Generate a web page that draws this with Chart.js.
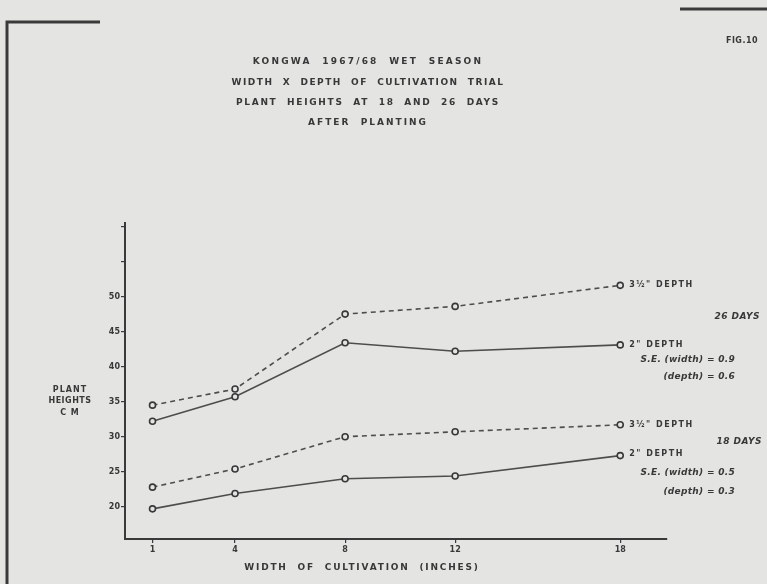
<!DOCTYPE html>
<html>
<head>
<meta charset="utf-8">
<script src="https://cdn.jsdelivr.net/npm/chart.js@4.4.0/dist/chart.umd.min.js"></script>
<style>
  html, body { margin: 0; padding: 0; background: #e4e4e2; }
  #wrap { width: 767px; height: 584px; }
</style>
</head>
<body>
<div id="wrap"><canvas id="grafico" width="767" height="584"></canvas></div>
<script>
// valores (altura em cm)
const larguras = [1, 4, 8, 12, 18];
const dias26_prof35 = [34.5, 36.8, 47.5, 48.6, 51.6];
const dias26_prof2 = [32.2, 35.7, 43.4, 42.2, 43.1];
const dias18_prof35 = [22.8, 25.4, 30.0, 30.7, 31.7];
const dias18_prof2 = [19.7, 21.9, 24.0, 24.4, 27.3];

const ticksY = [20, 25, 30, 35, 40, 45, 50, 55, 60];
const rotulosY = ['20', '25', '30', '35', '40', '45', '50', '', ''];

const titulo = [
    'KONGWA  1967/68  WET  SEASON',
    'WIDTH  X  DEPTH  OF  CULTIVATION  TRIAL',
    'PLANT  HEIGHTS  AT  18  AND  26  DAYS',
    'AFTER  PLANTING'
];

const FUNDO = '#e4e4e2';
const TINTA = '#383838';
const LINHA = '#4d4d4d';

function pontos(valores) {
    return larguras.map((x, i) => ({ x: x, y: valores[i] }));
}

function serie(valores, tracejado) {
    return {
        data: pontos(valores),
        showLine: true,
        borderColor: LINHA,
        borderWidth: 1.6,
        borderDash: tracejado ? [5, 4] : [],
        pointRadius: 3,
        pointBorderWidth: 1.6,
        pointBorderColor: TINTA,
        pointBackgroundColor: FUNDO
    };
}

function texto(ctx, t, x, y, fonte, alinhar, espaco) {
    ctx.font = fonte;
    ctx.textAlign = alinhar || 'left';
    ctx.letterSpacing = (espaco || 0) + 'px';
    ctx.fillText(t, x, y);
}

const anotacoes = {
    id: 'anotacoes',
    beforeDraw(chart) {
        const ctx = chart.ctx;
        ctx.save();
        ctx.fillStyle = FUNDO;
        ctx.fillRect(0, 0, chart.width, chart.height);
        // moldura da fotografia
        ctx.strokeStyle = '#3a3a3a';
        ctx.lineWidth = 3;
        ctx.beginPath();
        ctx.moveTo(7, 584);
        ctx.lineTo(7, 22);
        ctx.lineTo(100, 22);
        ctx.stroke();
        ctx.beginPath();
        ctx.moveTo(680, 9);
        ctx.lineTo(767, 9);
        ctx.stroke();
        ctx.restore();
    },
    afterDraw(chart) {
        const ctx = chart.ctx;
        const sx = chart.scales.x;
        const sy = chart.scales.y;
        ctx.save();
        ctx.fillStyle = TINTA;
        ctx.textBaseline = 'middle';

        const tituloY = [62, 83, 103, 123];
        const tituloEsp = [2.2, 1.5, 1.7, 2];
        titulo.forEach((linha, i) => {
            texto(ctx, linha, 368, tituloY[i], 'bold 9px "DejaVu Sans"', 'center', tituloEsp[i]);
        });

        texto(ctx, 'FIG.10', 742, 41, 'bold 8px "DejaVu Sans"', 'center', 0.5);

        texto(ctx, 'PLANT', 70, 390, 'bold 8px "DejaVu Sans"', 'center', 1);
        texto(ctx, 'HEIGHTS', 70, 401, 'bold 8px "DejaVu Sans"', 'center', 0.5);
        texto(ctx, 'C M', 70, 413, 'bold 8px "DejaVu Sans"', 'center', 1);

        texto(ctx, 'WIDTH  OF  CULTIVATION  (INCHES)', 362, 568, 'bold 9px "DejaVu Sans"', 'center', 1.8);

        // rótulos junto ao fim das linhas
        const xf = sx.getPixelForValue(18) + 9;
        const fonteSerie = 'bold 8px "DejaVu Sans"';
        texto(ctx, '3½" DEPTH', xf, sy.getPixelForValue(dias26_prof35[4]), fonteSerie, 'left', 1.5);
        texto(ctx, '2" DEPTH', xf, sy.getPixelForValue(dias26_prof2[4]), fonteSerie, 'left', 1.5);
        texto(ctx, '3½" DEPTH', xf, sy.getPixelForValue(dias18_prof35[4]), fonteSerie, 'left', 1.5);
        texto(ctx, '2" DEPTH', xf, sy.getPixelForValue(dias18_prof2[4]) - 2, fonteSerie, 'left', 1.5);

        const fonteSE = 'italic bold 9px "DejaVu Sans"';
        texto(ctx, '26 DAYS', 760, 317, fonteSE, 'right', 0.5);
        texto(ctx, 'S.E. (width) = 0.9', 735, 360, fonteSE, 'right', 0.3);
        texto(ctx, '(depth) = 0.6', 735, 377, fonteSE, 'right', 0.3);
        texto(ctx, '18 DAYS', 762, 442, fonteSE, 'right', 0.5);
        texto(ctx, 'S.E. (width) = 0.5', 735, 473, fonteSE, 'right', 0.3);
        texto(ctx, '(depth) = 0.3', 735, 492, fonteSE, 'right', 0.3);

        ctx.restore();
    }
};

new Chart(document.getElementById('grafico'), {
    type: 'scatter',
    data: {
        datasets: [
            serie(dias26_prof35, true),
            serie(dias26_prof2, false),
            serie(dias18_prof35, true),
            serie(dias18_prof2, false)
        ]
    },
    options: {
        responsive: false,
        animation: false,
        layout: { padding: { top: 223, right: 100, left: 0, bottom: 0 } },
        plugins: {
            legend: { display: false },
            tooltip: { enabled: false }
        },
        scales: {
            x: {
                type: 'linear',
                min: 0,
                max: 19.7,
                afterBuildTicks: (scale) => { scale.ticks = larguras.map(v => ({ value: v })); },
                afterFit: (scale) => { scale.height = 45; },
                border: { display: true, color: '#3a3a3a', width: 2 },
                grid: { drawOnChartArea: false, drawTicks: true, tickLength: 4, color: '#3a3a3a', lineWidth: 1.2 },
                ticks: {
                    color: TINTA,
                    padding: 2,
                    font: { family: 'DejaVu Sans', size: 8, weight: 'bold' },
                    callback: (v) => String(v)
                }
            },
            y: {
                type: 'linear',
                min: 15.4,
                max: 60.5,
                afterBuildTicks: (scale) => { scale.ticks = ticksY.map(v => ({ value: v })); },
                afterFit: (scale) => { scale.width = 125; },
                border: { display: true, color: '#3a3a3a', width: 2 },
                grid: { drawOnChartArea: false, drawTicks: true, tickLength: 4, color: '#3a3a3a', lineWidth: 1.2 },
                ticks: {
                    color: TINTA,
                    padding: 1,
                    font: { family: 'DejaVu Sans', size: 8, weight: 'bold' },
                    callback: (v) => rotulosY[ticksY.indexOf(v)]
                }
            }
        }
    },
    plugins: [anotacoes]
});
</script>
</body>
</html>
